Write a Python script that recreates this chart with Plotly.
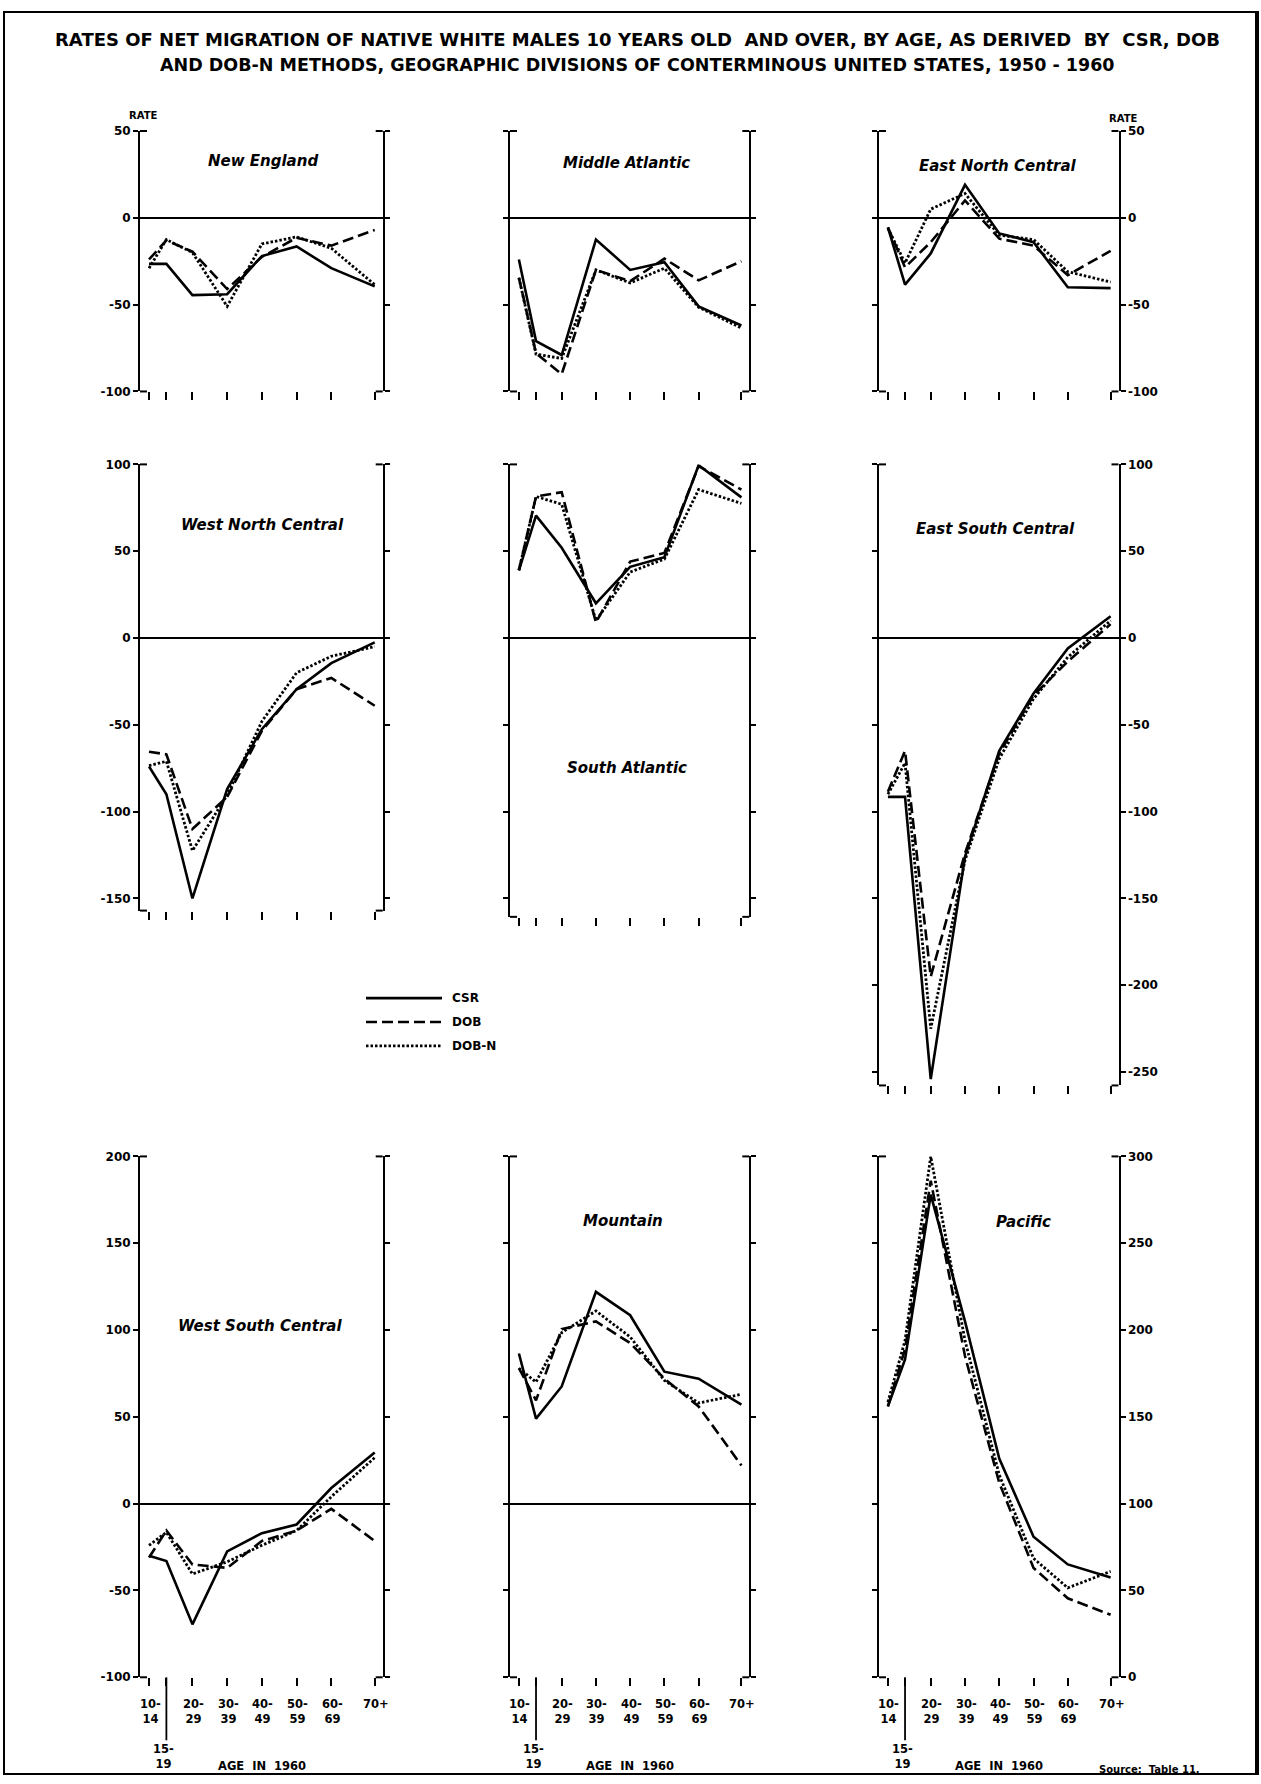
import plotly.graph_objects as go

W, H = 1261, 1784

# ---- data -------------------------------------------------------------
AGE_POS = [12, 17, 24.5, 34.5, 44.5, 54.5, 64.5, 77]
AGE_LABELS = ["10-<br>14", "15-<br>19", "20-<br>29", "30-<br>39",
              "40-<br>49", "50-<br>59", "60-<br>69", "70+"]
METHODS = ["CSR", "DOB", "DOB-N"]

NE_CSR = [-26.5, -26.5, -44.5, -44, -22, -16.5, -29, -39.5]
NE_DOB = [-24, -13, -19.5, -41, -22.5, -11.5, -16, -7]
NE_DOBN = [-29, -12.5, -20, -51, -15, -11, -17.5, -38.5]

MA_CSR = [-24, -71, -79, -12.5, -30, -25.5, -51, -62]
MA_DOB = [-34.5, -78, -90, -30, -36.5, -23.5, -36, -25]
MA_DOBN = [-34.5, -78.5, -81, -30, -37.5, -29, -51.5, -63.5]

ENC_CSR = [-5.5, -38.5, -20.5, 19, -9, -14, -40, -40.5]
ENC_DOB = [-5.5, -28.5, -14, 10, -12, -16, -33, -19]
ENC_DOBN = [-6, -26, 5, 14, -10, -12.5, -31, -37]

WNC_CSR = [-74, -90, -150, -87, -52.5, -29.5, -14.5, -2.5]
WNC_DOB = [-65.5, -67, -110, -91.5, -53.5, -29.5, -23, -39]
WNC_DOBN = [-73.5, -71, -122.5, -90.5, -48, -20, -10.5, -5]

SA_CSR = [39, 70.5, 52, 20, 41, 46.5, 99.5, 81]
SA_DOB = [39, 81.5, 84, 9, 44, 49, 99, 85.5]
SA_DOBN = [39, 81.5, 77, 10, 38, 45.5, 85.5, 77.5]

ESC_CSR = [-91.5, -91.5, -254, -126, -65, -32, -6, 12.5]
ESC_DOB = [-88.5, -65, -195, -124, -66.5, -33, -13.5, 8]
ESC_DOBN = [-90, -72, -225, -128, -69.5, -35, -11, 10]

WSC_CSR = [-30, -33, -69.5, -27.5, -17, -12, 9, 29.5]
WSC_DOB = [-31, -15.5, -35, -37, -21.5, -15.5, -3, -21.5]
WSC_DOBN = [-24, -16.5, -40.5, -33.5, -24, -15.5, 4, 26.5]

MTN_CSR = [86.5, 49, 67.5, 122, 108.5, 76, 72, 57]
MTN_DOB = [78, 59.5, 100.5, 105, 92.5, 72, 56, 22]
MTN_DOBN = [78, 70, 98.5, 111, 96, 71, 58, 63]

PAC_CSR = [156, 183, 278, 205, 126, 81, 65, 57.5]
PAC_DOB = [156, 189, 286, 185, 112, 63, 45.5, 36]
PAC_DOBN = [158.5, 194, 300, 194, 116.5, 68.5, 51.5, 61]

TICKS_ROW1 = [-100, -50, 0, 50]
TICKS_ROW2 = [-250, -200, -150, -100, -50, 0, 50, 100]
TICKS_ROW3 = [-100, -50, 0, 50, 100, 150, 200]
TICKS_PAC = [0, 50, 100, 150, 200, 250, 300]

NB = "\u00a0"
TITLE_1 = ("RATES OF NET MIGRATION OF NATIVE WHITE MALES 10 YEARS OLD " + NB
           + "AND OVER, BY AGE, AS DERIVED " + NB + "BY " + NB + "CSR, DOB")
TITLE_2 = "AND DOB-N METHODS, GEOGRAPHIC DIVISIONS OF CONTERMINOUS UNITED STATES, 1950 - 1960"

# ---- layout geometry (pixels) ---------------------------------------------
COL_X = [(140, 382.7), (510, 749.3), (879, 1118.5)]
ROW_TOP = [125, 461, 1158.5]
PX_PER_UNIT = 1.75
X_RANGE = [9.4, 79.3]

PANELS = [
    dict(name="New England", series=(NE_CSR, NE_DOB, NE_DOBN), col=0, row=0,
         ymin=-100, ymax=50, ticks=TICKS_ROW1, title=(262.5, 155)),
    dict(name="Middle Atlantic", series=(MA_CSR, MA_DOB, MA_DOBN), col=1, row=0,
         ymin=-100, ymax=50, ticks=TICKS_ROW1, title=(626.5, 157)),
    dict(name="East North Central", series=(ENC_CSR, ENC_DOB, ENC_DOBN), col=2, row=0,
         ymin=-100, ymax=50, ticks=TICKS_ROW1, title=(998, 160)),
    dict(name="West North Central", series=(WNC_CSR, WNC_DOB, WNC_DOBN), col=0, row=1,
         ymin=-157, ymax=100, ticks=TICKS_ROW2, title=(262, 522.5)),
    dict(name="South Atlantic", series=(SA_CSR, SA_DOB, SA_DOBN), col=1, row=1,
         ymin=-160.6, ymax=100, ticks=TICKS_ROW2, title=(626.5, 767.5)),
    dict(name="East South Central", series=(ESC_CSR, ESC_DOB, ESC_DOBN), col=2, row=1,
         ymin=-257.7, ymax=100, ticks=TICKS_ROW2, title=(995, 526)),
    dict(name="West South Central", series=(WSC_CSR, WSC_DOB, WSC_DOBN), col=0, row=2,
         ymin=-100, ymax=200, ticks=TICKS_ROW3, title=(260, 1329)),
    dict(name="Mountain", series=(MTN_CSR, MTN_DOB, MTN_DOBN), col=1, row=2,
         ymin=-100, ymax=200, ticks=TICKS_ROW3, title=(622.5, 1223.5)),
    dict(name="Pacific", series=(PAC_CSR, PAC_DOB, PAC_DOBN), col=2, row=2,
         ymin=0, ymax=300, ticks=TICKS_PAC, title=(1023.5, 1224.5)),
]

LINE_STYLE = {
    "CSR": dict(color="black", width=2.6, dash="solid"),
    "DOB": dict(color="black", width=2.6, dash="11px,5px"),
    "DOB-N": dict(color="black", width=2.8, dash="2.5px,2px"),
}

FONT = "DejaVu Sans"
TICK_FONT = dict(family=FONT, size=12, color="black", weight="bold")


def fx(px):
    return px / W


def fy(py):
    return 1 - py / H


fig = go.Figure()
layout_axes = {}
annotations = []
shapes = []

for i, p in enumerate(PANELS, start=1):
    sfx = "" if i == 1 else str(i)
    x0, x1 = COL_X[p["col"]]
    top = ROW_TOP[p["row"]]
    bottom = top + (p["ymax"] - p["ymin"]) * PX_PER_UNIT

    for method, values in zip(METHODS, p["series"]):
        fig.add_trace(go.Scatter(
            x=AGE_POS, y=values, mode="lines", name=method,
            line=LINE_STYLE[method], xaxis="x" + sfx, yaxis="y" + sfx,
            showlegend=False, hoverinfo="skip"))

    layout_axes["xaxis" + sfx] = dict(
        domain=[fx(x0), fx(x1)], range=X_RANGE, anchor="y" + sfx,
        tickvals=AGE_POS, ticks="outside", ticklen=8, tickwidth=1.8,
        tickcolor="black", showticklabels=False, showline=False,
        showgrid=False, zeroline=False, fixedrange=True)

    layout_axes["yaxis" + sfx] = dict(
        domain=[fy(bottom), fy(top)], range=[p["ymin"], p["ymax"]],
        anchor="x" + sfx, tickvals=p["ticks"],
        ticktext=[str(v) for v in p["ticks"]],
        ticks="outside", ticklen=5, tickwidth=1.6, tickcolor="black",
        showline=True, linewidth=2, linecolor="black", mirror="ticks",
        side="right" if p["col"] == 2 else "left",
        showticklabels=p["col"] != 1, tickfont=TICK_FONT,
        showgrid=False, zeroline=p["ymin"] < 0, zerolinecolor="black",
        zerolinewidth=1.6, fixedrange=True)

    # bracket ends at the top and bottom of both frame sides
    for yy in (top, bottom):
        shapes.append(dict(type="line", xref="paper", yref="paper",
                           x0=fx(x0), x1=fx(x0 + 7), y0=fy(yy), y1=fy(yy),
                           line=dict(color="black", width=2)))
        shapes.append(dict(type="line", xref="paper", yref="paper",
                           x0=fx(x1 - 7), x1=fx(x1), y0=fy(yy), y1=fy(yy),
                           line=dict(color="black", width=2)))

    tx, ty = p["title"]
    annotations.append(dict(
        text="<b><i>%s</i></b>" % p["name"], x=fx(tx), y=fy(ty),
        xref="paper", yref="paper", showarrow=False,
        xanchor="center", yanchor="middle",
        font=dict(family=FONT, size=15, color="black")))

    # age labels under the bottom row
    if p["row"] == 2:
        xa = "x" + sfx
        for pos, lab in zip(AGE_POS, AGE_LABELS):
            lowered = lab.startswith("15")
            annotations.append(dict(
                text="<b>%s</b>" % lab, x=pos, xref=xa,
                y=fy(1747 if lowered else 1701), yref="paper",
                xshift=-3 if lowered else 1,
                showarrow=False, xanchor="center", yanchor="top",
                font=dict(family=FONT, size=11.5, color="black")))
        shapes.append(dict(type="line", xref=xa, yref="paper",
                           x0=AGE_POS[1], x1=AGE_POS[1],
                           y0=fy(bottom), y1=fy(1747),
                           line=dict(color="black", width=1.8)))
        annotations.append(dict(
            text="<b>AGE  IN  1960</b>", x=(AGE_POS[0] + AGE_POS[-1]) / 2,
            xref=xa, y=fy(1773), yref="paper", showarrow=False,
            xanchor="center", yanchor="middle",
            font=dict(family=FONT, size=11.5, color="black")))

# "RATE" headers over the labelled scales
for rx, ry in ((143, 109), (1123, 112)):
    annotations.append(dict(text="<b>RATE</b>", x=fx(rx), y=fy(ry),
                            xref="paper", yref="paper", showarrow=False,
                            xanchor="center", yanchor="middle",
                            font=dict(family=FONT, size=10, color="black")))

# title
for txt, ty, sz in ((TITLE_1, 33, 18), (TITLE_2, 58, 17.5)):
    annotations.append(dict(text="<b>%s</b>" % txt, x=fx(637), y=fy(ty),
                            xref="paper", yref="paper", showarrow=False,
                            xanchor="center", yanchor="middle",
                            font=dict(family=FONT, size=sz, color="black")))

# key to the three methods
for k, method in enumerate(METHODS):
    ly = 999 + 24 * k
    st = LINE_STYLE[method]
    shapes.append(dict(type="line", xref="paper", yref="paper",
                       x0=fx(366), x1=fx(442), y0=fy(ly), y1=fy(ly),
                       line=dict(color="black", width=st["width"], dash=st["dash"])))
    annotations.append(dict(text="<b>%s</b>" % method, x=fx(450), y=fy(ly),
                            xref="paper", yref="paper", showarrow=False,
                            xanchor="left", yanchor="middle",
                            font=dict(family=FONT, size=12, color="black")))

annotations.append(dict(text="<b>Source:  Table 11.</b>", x=fx(1149), y=fy(1776),
                        xref="paper", yref="paper", showarrow=False,
                        xanchor="center", yanchor="middle",
                        font=dict(family=FONT, size=10, color="black")))

# page frame
shapes.append(dict(type="rect", xref="paper", yref="paper",
                   x0=fx(4), x1=fx(1257), y0=fy(1781), y1=fy(5),
                   line=dict(color="black", width=2)))
shapes.append(dict(type="line", xref="paper", yref="paper",
                   x0=fx(1257), x1=fx(1257), y0=fy(1782), y1=fy(4),
                   line=dict(color="black", width=4)))

fig.update_layout(
    width=W, height=H, autosize=False,
    margin=dict(l=0, r=0, t=0, b=0),
    paper_bgcolor="white", plot_bgcolor="white",
    showlegend=False, annotations=annotations, shapes=shapes,
    **layout_axes)

fig.write_html("out.html", config={"displayModeBar": False})
